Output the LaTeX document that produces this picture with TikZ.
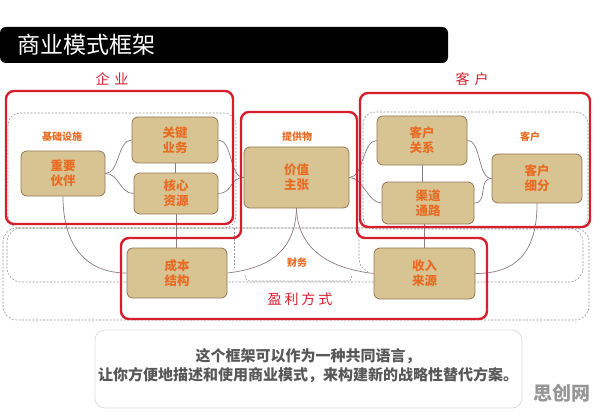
\documentclass[tikz,border=0pt]{standalone}
\usepackage{fontspec}
\setmainfont{Noto Sans CJK SC}
\definecolor{boxfill}{RGB}{216,196,146}
\definecolor{boxborder}{RGB}{150,118,88}
\definecolor{orangetxt}{RGB}{232,108,36}
\definecolor{redc}{RGB}{214,30,44}
\definecolor{linkgray}{RGB}{140,122,132}
\definecolor{dashgray}{RGB}{150,150,150}
\definecolor{desctxt}{RGB}{88,88,88}
\definecolor{descborder}{RGB}{222,222,222}
\definecolor{wmark}{RGB}{150,150,150}
\begin{document}
\begin{tikzpicture}[x=1pt,y=-1pt,
  blk/.style={draw=boxborder, fill=boxfill, rounded corners=6pt, line width=0.8pt,
    font=\bfseries\fontsize{12.5}{15}\selectfont, text=orangetxt, align=center, inner sep=0pt},
  link/.style={draw=linkgray, line width=0.7pt},
  dsh/.style={draw=dashgray, dash pattern=on 2pt off 1.5pt, line width=0.6pt},
  redbox/.style={draw=redc, line width=2.4pt, rounded corners=8pt},
  sublbl/.style={text=orangetxt, font=\bfseries\fontsize{10}{12}\selectfont, inner sep=0pt},
  redlbl/.style={text=redc, font=\fontsize{14}{16}\selectfont, inner sep=0pt}]
\useasboundingbox (0,0) rectangle (596,414);

% title bar
\fill[black, rounded corners=6pt] (0,27) rectangle (448,63);
\node[anchor=west, text=white, font=\fontsize{23}{25}\selectfont, inner sep=0pt] (title) at (17,45) {商业模式框架};

% dashed grouping regions
\draw[dsh, rounded corners=12pt] (8,113) rectangle (236,228);
\draw[dsh, rounded corners=12pt] (363,112) rectangle (588,229);
\draw[dsh, rounded corners=14pt] (7,228) rectangle (583,282);
\draw[dsh, rounded corners=14pt] (3,228) rectangle (589,320);
\draw[dsh] (234,228) -- (234,268);
\draw[dsh] (359,229) -- (359,258) .. controls (360,266) .. (368,272);
\draw[dsh] (245,275) .. controls (246,281) .. (254,281) -- (343,281) .. controls (351,281) .. (352,275);

% blocks
\node[blk, minimum width=84, minimum height=45] (kp) at (63,173.5) {重要\\伙伴};
\node[blk, minimum width=86, minimum height=46] (ka) at (175,140) {关键\\业务};
\node[blk, minimum width=84, minimum height=41] (kr) at (176,193.5) {核心\\资源};
\node[blk, minimum width=105, minimum height=61] (vp) at (296.5,177.5) {价值\\主张};
\node[blk, minimum width=90, minimum height=49] (cr) at (422,140.5) {客户\\关系};
\node[blk, minimum width=92, minimum height=42] (ch) at (428,203) {渠道\\通路};
\node[blk, minimum width=90, minimum height=49] (cs) at (537,178.5) {客户\\细分};
\node[blk, minimum width=100, minimum height=50] (cost) at (177,273) {成本\\结构};
\node[blk, minimum width=101, minimum height=51] (rev) at (424.5,273.5) {收入\\来源};

% connectors
\draw[link] (kp.east) .. controls +(14,0) and +(-14,0) .. (ka.west);
\draw[link] (kp.east) .. controls +(14,0) and +(-14,0) .. (kr.west);
\draw[link] (ka.east) .. controls +(14,0) and +(-14,0) .. (vp.west);
\draw[link] (kr.east) .. controls +(14,0) and +(-14,0) .. (vp.west);
\draw[link] (vp.east) .. controls +(14,0) and +(-14,0) .. (cr.west);
\draw[link] (vp.east) .. controls +(14,0) and +(-14,0) .. (ch.west);
\draw[link] (cr.east) .. controls +(14,0) and +(-14,0) .. (cs.west);
\draw[link] (ch.east) .. controls +(14,0) and +(-14,0) .. (cs.west);
\draw[link] (ka.south) -- (ka.south |- kr.north);
\draw[link] (cr.south) -- (cr.south |- ch.north);
\draw[link] (kr.south) -- (kr.south |- cost.north);
\draw[link] (rev.north |- ch.south) -- (rev.north);
\draw[link] (kp.south) .. controls +(0,50) and +(-40,0) .. (cost.west);
\draw[link] (cs.south) .. controls +(0,50) and +(40,0) .. (rev.east);
\draw[link] (vp.south) .. controls +(-1.5,42) and +(43,-5) .. (cost.east);
\draw[link] (vp.south) .. controls +(1.5,42) and +(-43,-5) .. (rev.west);

% red outlines
\draw[redbox] (6,91) rectangle (233,224);
\draw[redbox] (360,93) rectangle (590,227);
\draw[redbox] (121,238) -- (241,238) -- (241,112) -- (357,112) -- (357,238) -- (487,238) -- (487,319) -- (121,319) -- cycle;

% group labels
\node[sublbl] (lblinfra) at (62,137) {基础设施};
\node[sublbl] (lbloffer) at (297,137) {提供物};
\node[sublbl] (lblcust) at (530,137) {客户};
\node[sublbl] (lblfin) at (297,263) {财务};
\node[redlbl] (lblent) at (112,79) {企\hspace{5pt}业};
\node[redlbl] (lblcus) at (472,79) {客\hspace{5pt}户};
\node[redlbl] (lblprofit) at (300,299) {盈\hspace{3pt}利\hspace{3pt}方\hspace{3pt}式};

% description
\draw[descborder, line width=0.8pt, rounded corners=10pt] (95,330) rectangle (522,408);
\node[text=desctxt, font=\bfseries\fontsize{15}{19}\selectfont, align=center, inner sep=0pt] (desc) at (308,366)
  {这个框架可以作为一种共同语言，\\让你方便地描述和使用商业模式，来构建新的战略性替代方案。};

% watermark
\node[text=wmark, font=\bfseries\fontsize{19}{21}\selectfont, inner sep=0pt] (wm) at (562,393) {思创网};
\end{tikzpicture}
\end{document}
